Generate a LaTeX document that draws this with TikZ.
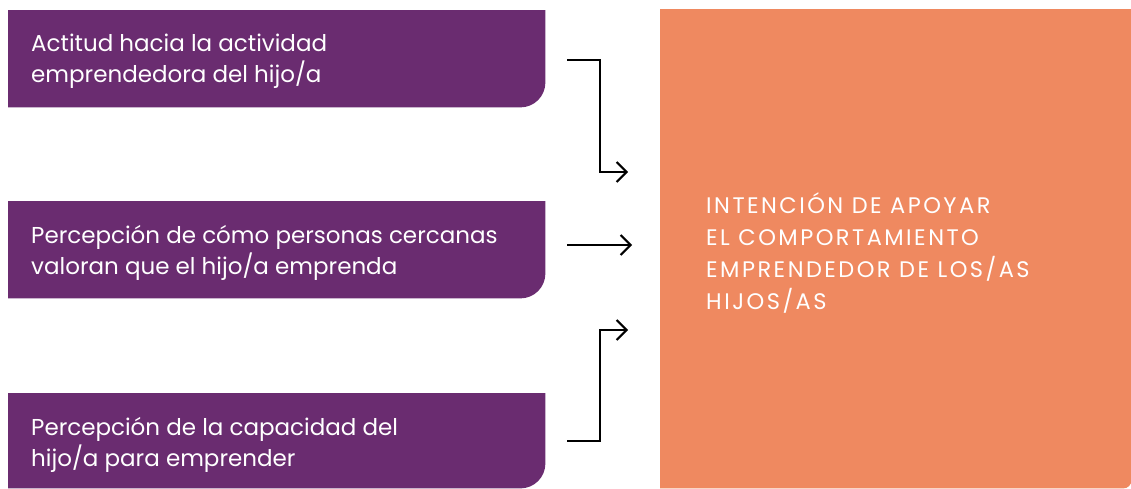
\documentclass[tikz,border=0pt]{standalone}
\usepackage{fontspec}
\setmainfont{Poppins}
\newfontfamily\capsfont[LetterSpace=11]{Poppins}
\usetikzlibrary{arrows.meta,backgrounds}
\definecolor{boxpurple}{HTML}{6A2C70}
\definecolor{boxorange}{HTML}{EF8960}
\tikzset{
  inbox/.style={minimum width=537pt, minimum height=97pt, inner sep=0pt, anchor=north west},
  outbox/.style={minimum width=471pt, minimum height=479pt, inner sep=0pt, anchor=north west},
  outtext/.style={text=white, font=\capsfont\fontsize{22.5}{32}\selectfont, align=left, anchor=west, inner sep=0pt},
  intext/.style={text=white, font=\fontsize{23}{31.5}\selectfont, align=left, anchor=west, inner sep=0pt},
  arr/.style={draw=black, line width=2pt, -{Straight Barb[length=10pt,width=20pt,line width=2pt]}}
}
\begin{document}
\begin{tikzpicture}[x=1pt,y=-1pt]
\useasboundingbox (0,0) rectangle (1131,488);
\node[inbox] (a) at (8,10) {};
\node[inbox] (b) at (8,201) {};
\node[inbox, minimum height=95pt] (c) at (8,393) {};
\node[outbox] (o) at (660,9) {};
\begin{scope}[on background layer]
\foreach \n in {a,b,c}{
  \fill[boxpurple] (\n.north west) -- (\n.north east) [rounded corners=25pt] -- (\n.south east) [sharp corners] -- (\n.south west) -- cycle;
}
\fill[boxorange] (o.north west) -- (o.north east) [rounded corners=8pt] -- (o.south east) [sharp corners] -- (o.south west) -- cycle;
\end{scope}
\node[intext] (ta) at (31,61) {Actitud hacia la actividad\\emprendedora del hijo/a};
\node[intext] (tb) at (31,253) {Percepción de cómo personas cercanas\\valoran que el hijo/a emprenda};
\node[intext] (tc) at (31,445) {Percepción de la capacidad del\\hijo/a para emprender};
\node[outtext] (to) at (706,253) {INTENCIÓN DE APOYAR\\EL COMPORTAMIENTO\\EMPRENDEDOR DE LOS/AS\\HIJOS/AS};
\coordinate (sa) at (567,60);
\coordinate (sb) at (567,245);
\coordinate (sc) at (567,441);
\coordinate (ea) at (628,172);
\coordinate (eb) at (632,245);
\coordinate (ec) at (628,330);
\draw[arr] (sa) -- (600,60) |- (ea);
\draw[arr] (sb) -- (eb);
\draw[arr] (sc) -- (600,441) |- (ec);
\end{tikzpicture}
\end{document}
